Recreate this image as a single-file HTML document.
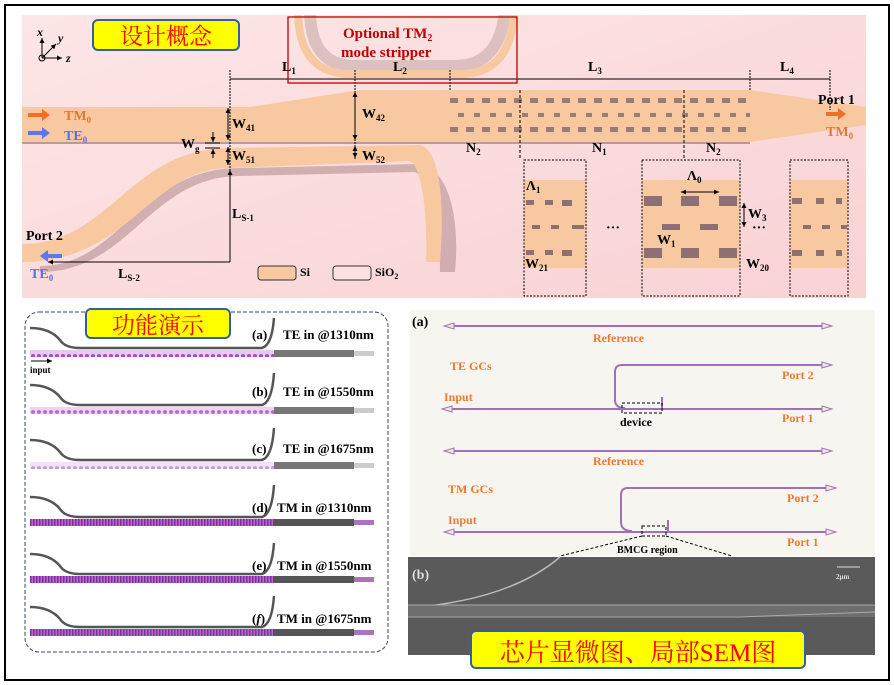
<!DOCTYPE html>
<html><head><meta charset="utf-8"><style>
html,body{margin:0;padding:0;background:#fff}
svg{display:block}
text{font-family:"Liberation Serif",serif;font-weight:bold}
.cn{font-family:"Liberation Serif","Noto Serif CJK SC","Noto Sans CJK SC",serif;font-weight:normal}
</style></head><body>
<svg width="894" height="685" viewBox="0 0 894 685" xmlns="http://www.w3.org/2000/svg">
<defs>
<marker id="a" viewBox="0 0 6 6" refX="6" refY="3" markerWidth="5" markerHeight="5" orient="auto-start-reverse"><path d="M0,0L6,3L0,6z" fill="#000"/></marker>
<linearGradient id="pk" x1="0" y1="0" x2="1" y2="1"><stop offset="0" stop-color="#fde6e6"/><stop offset="1" stop-color="#f9d2d4"/></linearGradient>
<pattern id="holes" width="16" height="1000" patternUnits="userSpaceOnUse"><rect x="2" y="98" width="8" height="5" fill="#9a7c78"/><rect x="10" y="113" width="9" height="4" fill="#9a7c78"/><rect x="2" y="127" width="8" height="5" fill="#9a7c78"/></pattern>
<pattern id="fld" width="6" height="8" patternUnits="userSpaceOnUse"><rect width="6" height="8" fill="#e9c9ee"/><circle cx="3" cy="4" r="2" fill="#a050c0"/></pattern>
<pattern id="fld2" width="3" height="8" patternUnits="userSpaceOnUse"><rect width="3" height="8" fill="#c860c8"/><rect width="1.5" height="8" fill="#6a3aa8"/></pattern>
<clipPath id="tp"><rect x="22" y="15" width="844" height="283"/></clipPath>
</defs>
<rect x="5" y="5" width="884" height="675" fill="#fff" stroke="#000" stroke-width="2"/>

<!-- top panel -->
<rect x="22" y="15" width="844" height="283" fill="url(#pk)"/>
<g clip-path="url(#tp)">
<!-- stripper U -->
<path d="M310,10 Q310,66 355,66 L455,66 Q500,66 505,10" fill="none" stroke="#b89a9a" stroke-width="12" opacity="0.45"/>
<path d="M298,10 Q298,74 350,74 L460,74 Q512,74 514,10" fill="none" stroke="#f8c9a0" stroke-width="8"/>
</g>
<!-- lower waveguide shadow -->
<path d="M40,266 C120,266 140,168 240,168 L420,164 C450,170 460,220 455,272 L440,272 C440,220 430,180 415,172 L240,176 C150,176 130,272 40,272 Z" fill="#c7a2a4" opacity="0.8"/>
<!-- lower waveguide -->
<path d="M22,244 C110,244 130,148 230,148 L420,145 C440,150 445,200 440,262 L426,262 C428,205 420,165 410,161 L230,168 C150,168 130,262 22,262 Z" fill="#f8c9a0"/>
<!-- main waveguide -->
<path d="M22,107 L250,107 L360,90 L750,90 L866,107 L866,125 L750,142 L22,142 Z" fill="#f8c9a0"/>
<line x1="22" y1="143" x2="750" y2="143" stroke="#a08585" stroke-width="1.5"/>
<rect x="448" y="90" width="302" height="52" fill="url(#holes)"/>

<!-- dims -->
<g stroke="#000" stroke-width="1" fill="none">
<line x1="230" y1="70" x2="230" y2="262" stroke-dasharray="2,1"/>
<line x1="355" y1="70" x2="355" y2="160" stroke-dasharray="2,1"/>
<line x1="450" y1="70" x2="450" y2="90" stroke-dasharray="2,1"/>
<line x1="750" y1="70" x2="750" y2="90" stroke-dasharray="2,1"/>
<line x1="830" y1="70" x2="830" y2="110" stroke-dasharray="2,1"/>
<line x1="230" y1="79" x2="830" y2="79"/>
<line x1="520" y1="90" x2="520" y2="160" stroke-dasharray="3,2"/>
<line x1="684" y1="90" x2="684" y2="160" stroke-dasharray="3,2"/>
<line x1="355" y1="92" x2="355" y2="140" marker-start="url(#a)" marker-end="url(#a)"/>
<line x1="228" y1="108" x2="228" y2="140" marker-start="url(#a)" marker-end="url(#a)"/>
<line x1="228" y1="147" x2="228" y2="165" marker-start="url(#a)" marker-end="url(#a)"/>
<line x1="355" y1="146" x2="355" y2="158" marker-start="url(#a)" marker-end="url(#a)"/>
<line x1="230" y1="170" x2="230" y2="262" marker-start="url(#a)"/>
<line x1="48" y1="262" x2="230" y2="262" marker-start="url(#a)"/>
<line x1="205" y1="143" x2="220" y2="143"/><line x1="205" y1="148" x2="220" y2="148"/>
<line x1="213" y1="132" x2="213" y2="142" marker-end="url(#a)"/>
<line x1="213" y1="158" x2="213" y2="149" marker-end="url(#a)"/>
<rect x="288" y="17" width="229" height="66" stroke="#c00000" stroke-width="1.3"/>
</g>
<g font-size="14">
<text x="282" y="71">L<tspan font-size="9" dy="3">1</tspan></text>
<text x="393" y="71">L<tspan font-size="9" dy="3">2</tspan></text>
<text x="588" y="71">L<tspan font-size="9" dy="3">3</tspan></text>
<text x="780" y="71">L<tspan font-size="9" dy="3">4</tspan></text>
<text x="362" y="118">W<tspan font-size="9" dy="3">42</tspan></text>
<text x="232" y="128">W<tspan font-size="9" dy="3">41</tspan></text>
<text x="232" y="160">W<tspan font-size="9" dy="3">51</tspan></text>
<text x="362" y="160">W<tspan font-size="9" dy="3">52</tspan></text>
<text x="181" y="148">W<tspan font-size="9" dy="4">g</tspan></text>
<text x="232" y="218">L<tspan font-size="9" dy="3">S-1</tspan></text>
<text x="118" y="278">L<tspan font-size="9" dy="3">S-2</tspan></text>
<text x="466" y="152">N<tspan font-size="9" dy="3">2</tspan></text>
<text x="592" y="152">N<tspan font-size="9" dy="3">1</tspan></text>
<text x="706" y="152">N<tspan font-size="9" dy="3">2</tspan></text>
<text x="818" y="104">Port 1</text>
<text x="26" y="240">Port 2</text>
<text x="64" y="120" fill="#e07838">TM<tspan font-size="9" dy="3">0</tspan></text>
<text x="64" y="140" fill="#5a6ee8">TE<tspan font-size="9" dy="3">0</tspan></text>
<text x="30" y="278" fill="#5a6ee8">TE<tspan font-size="9" dy="3">0</tspan></text>
<text x="826" y="136" fill="#e07838">TM<tspan font-size="9" dy="3">0</tspan></text>
<text x="343" y="38" fill="#c00000" font-size="15">Optional TM<tspan font-size="10" dy="3">2</tspan></text>
<text x="341" y="57" fill="#c00000" font-size="15">mode stripper</text>
<text x="300" y="276" font-size="12">Si</text>
<text x="375" y="276" font-size="12">SiO<tspan font-size="8" dy="3">2</tspan></text>
</g>
<rect x="258" y="266" width="38" height="14" rx="3" fill="#f8c9a0" stroke="#333"/>
<rect x="333" y="266" width="38" height="14" rx="3" fill="#fbe0e0" stroke="#333"/>
<!-- mode arrows -->
<path d="M28,113h14v-4l8,6l-8,6v-4h-14z" fill="#f07020"/>
<path d="M28,131h14v-4l8,6l-8,6v-4h-14z" fill="#5a78f0"/>
<path d="M62,254h-14v-4l-8,6l8,6v-4h14z" fill="#5a78f0"/>
<path d="M826,112h12v-4l8,6l-8,6v-4h-12z" fill="#f07020"/>
<!-- axes -->
<g stroke="#000" fill="none"><line x1="42" y1="58" x2="42" y2="38" marker-end="url(#a)"/><line x1="42" y1="58" x2="62" y2="58" marker-end="url(#a)"/><line x1="42" y1="58" x2="56" y2="44" marker-end="url(#a)"/><circle cx="42" cy="58" r="3"/></g>
<text x="37" y="36" font-size="12" font-style="italic">x</text><text x="58" y="42" font-size="12" font-style="italic">y</text><text x="66" y="62" font-size="12" font-style="italic">z</text>

<!-- zoom boxes -->
<g>
<rect x="524" y="180" width="62" height="88" fill="#f8c9a0"/>
<rect x="642" y="180" width="98" height="88" fill="#f8c9a0"/>
<rect x="790" y="180" width="58" height="88" fill="#f8c9a0"/>
<g fill="#8e7072">
<rect x="526" y="200" width="8" height="5"/><rect x="545" y="200" width="8" height="5"/><rect x="562" y="200" width="10" height="6"/>
<rect x="532" y="225" width="8" height="4"/><rect x="551" y="225" width="8" height="4"/><rect x="572" y="225" width="12" height="4"/>
<rect x="526" y="250" width="8" height="5"/><rect x="545" y="250" width="8" height="5"/><rect x="562" y="250" width="10" height="6"/>
<rect x="644" y="196" width="18" height="10"/><rect x="681" y="196" width="18" height="10"/><rect x="719" y="196" width="18" height="10"/>
<rect x="662" y="224" width="18" height="6"/><rect x="700" y="224" width="18" height="6"/>
<rect x="644" y="248" width="18" height="10"/><rect x="681" y="248" width="18" height="10"/><rect x="719" y="248" width="18" height="10"/>
<rect x="792" y="198" width="10" height="6"/><rect x="816" y="198" width="8" height="6"/><rect x="836" y="198" width="6" height="6"/>
<rect x="803" y="225" width="8" height="4"/><rect x="822" y="225" width="8" height="4"/><rect x="841" y="225" width="6" height="4"/>
<rect x="792" y="250" width="10" height="6"/><rect x="816" y="250" width="8" height="6"/><rect x="836" y="250" width="6" height="6"/>
</g>
<g fill="none" stroke="#000" stroke-dasharray="2,1.5"><rect x="524" y="160" width="62" height="136"/><rect x="642" y="160" width="98" height="136"/><rect x="790" y="160" width="58" height="136"/></g>
<text x="606" y="232" font-size="14">···</text><text x="752" y="232" font-size="14">···</text>
<g font-size="14"><text x="526" y="190">Λ<tspan font-size="9" dy="3">1</tspan></text><text x="687" y="180">Λ<tspan font-size="9" dy="3">0</tspan></text>
<text x="748" y="218">W<tspan font-size="9" dy="3">3</tspan></text><text x="657" y="244">W<tspan font-size="9" dy="3">1</tspan></text>
<text x="525" y="268">W<tspan font-size="9" dy="3">21</tspan></text><text x="746" y="268">W<tspan font-size="9" dy="3">20</tspan></text></g>
<g stroke="#000" fill="none"><line x1="681" y1="192" x2="719" y2="192" marker-start="url(#a)" marker-end="url(#a)"/><line x1="744" y1="203" x2="744" y2="227" marker-start="url(#a)" marker-end="url(#a)"/></g>
</g>

<!-- bottom left -->
<rect x="25" y="312" width="363" height="340" rx="14" fill="#fff" stroke="#3a4a70" stroke-dasharray="4,2"/>
<g font-size="13">
<text x="252" y="339">(a)</text><text x="283" y="339">TE in @1310nm</text>
<text x="252" y="396">(b)</text><text x="283" y="396">TE in @1550nm</text>
<text x="252" y="453">(c)</text><text x="283" y="453">TE in @1675nm</text>
<text x="252" y="512">(d)</text><text x="277" y="512">TM in @1310nm</text>
<text x="252" y="570">(e)</text><text x="277" y="570">TM in @1550nm</text>
<text x="252" y="623">(<tspan font-style="italic">f</tspan>)</text><text x="277" y="623">TM in @1675nm</text>
</g>
<g fill="none" stroke="#555" stroke-width="2.5">
<path d="M30,328 Q50,328 60,340 Q65,348 80,348 L262,348 Q272,345 274,318"/>
<path d="M30,385 Q50,385 60,397 Q65,405 80,405 L262,405 Q272,402 274,373"/>
<path d="M30,440 Q50,440 60,452 Q65,460 80,460 L262,460 Q272,457 274,428"/>
<path d="M30,497 Q50,497 60,509 Q65,517 80,517 L262,517 Q272,514 274,485"/>
<path d="M30,554 Q50,554 60,566 Q65,574 80,574 L262,574 Q272,571 274,543"/>
<path d="M30,607 Q50,607 60,619 Q65,627 80,627 L262,627 Q272,624 274,596"/>
</g>
<g>
<rect x="30" y="350" width="244" height="7" fill="url(#fld)"/><rect x="274" y="350" width="80" height="7" fill="#777"/><path d="M354,351h20v5h-20z" fill="#ccc"/>
<rect x="30" y="407" width="244" height="7" fill="url(#fld)" opacity="0.8"/><rect x="274" y="407" width="80" height="7" fill="#777"/><path d="M354,408h20v5h-20z" fill="#ccc"/>
<rect x="30" y="462" width="244" height="7" fill="url(#fld)" opacity="0.55"/><rect x="274" y="462" width="80" height="7" fill="#777"/><path d="M354,463h20v5h-20z" fill="#ccc"/>
<rect x="30" y="519" width="244" height="7" fill="url(#fld2)"/><rect x="274" y="519" width="80" height="7" fill="#555"/><path d="M354,520h20v5h-20z" fill="#b070c0"/>
<rect x="30" y="576" width="244" height="7" fill="url(#fld2)"/><rect x="274" y="576" width="80" height="7" fill="#555"/><path d="M354,577h20v5h-20z" fill="#b070c0"/>
<rect x="30" y="629" width="244" height="7" fill="url(#fld2)"/><rect x="274" y="629" width="80" height="7" fill="#555"/><path d="M354,630h20v5h-20z" fill="#b070c0"/>
</g>
<line x1="31" y1="361" x2="52" y2="361" stroke="#000" marker-end="url(#a)"/>
<text x="30" y="373" font-size="9">input</text>

<!-- microscope -->
<rect x="410" y="310" width="465" height="246" fill="#f7f5ef"/>
<g fill="none" stroke="#a070b8" stroke-width="2">
<path d="M450,326H825"/><path d="M448,409H825"/><path d="M622,365H825M622,365Q615,365 615,372V400Q615,408 625,408"/>
<path d="M450,451H825"/><path d="M448,532H830"/><path d="M628,488H830M628,488Q621,488 621,495V522Q621,531 632,531"/>
<path d="M662,397v12M668,520v12"/>
</g>
<g fill="#f0e8d8" stroke="#a070b8"><path d="M444,326l10,-3v6z"/><path d="M832,326l-10,-3v6z"/><path d="M442,409l10,-3v6z"/><path d="M832,409l-10,-3v6z"/><path d="M832,365l-10,-3v6z"/><path d="M444,451l10,-3v6z"/><path d="M832,451l-10,-3v6z"/><path d="M444,532l10,-3v6z"/><path d="M836,532l-10,-3v6z"/><path d="M836,488l-10,-3v6z"/></g>
<g fill="none" stroke="#000" stroke-dasharray="3,2"><rect x="622" y="403" width="40" height="10"/><rect x="642" y="526" width="24" height="10"/><path d="M642,536L560,556M666,536L732,556"/></g>
<g font-size="12" fill="#f07830">
<text x="593" y="342">Reference</text><text x="450" y="370">TE GCs</text><text x="782" y="379">Port 2</text>
<text x="444" y="401">Input</text><text x="782" y="422">Port 1</text>
<text x="593" y="465">Reference</text><text x="448" y="493">TM GCs</text><text x="787" y="502">Port 2</text>
<text x="448" y="524">Input</text><text x="787" y="546">Port 1</text>
</g>
<text x="620" y="426" font-size="12">device</text>
<text x="617" y="553" font-size="10">BMCG region</text>
<text x="412" y="326" font-size="14">(a)</text>
<!-- SEM -->
<rect x="408" y="557" width="467" height="98" fill="#5a5a5a"/>
<path d="M408,608 Q510,600 560,557" fill="none" stroke="#bbb" stroke-width="1.5"/>
<rect x="408" y="605" width="467" height="12" fill="#6e6e6e"/>
<line x1="408" y1="605" x2="875" y2="605" stroke="#aaa"/><line x1="408" y1="617" x2="740" y2="617" stroke="#aaa"/><path d="M740,617L875,612" stroke="#aaa"/>
<text x="412" y="579" font-size="14" fill="#ddd">(b)</text>
<line x1="837" y1="567" x2="860" y2="567" stroke="#ddd"/><text x="836" y="579" font-size="7" fill="#ddd">2μm</text>

<!-- yellow labels -->
<g stroke="#3060a0" stroke-width="2" fill="#ffff00">
<rect x="93" y="20" width="146" height="30" rx="5"/>
<rect x="86" y="309" width="144" height="29" rx="5"/>
<rect x="471" y="631" width="334" height="37" rx="5"/>
</g>
<g fill="#ff0000" class="cn">
<text x="166" y="44" font-size="23" text-anchor="middle" class="cn">设计概念</text>
<text x="158" y="333" font-size="23" text-anchor="middle" class="cn">功能演示</text>
<text x="638" y="661" font-size="25" text-anchor="middle" class="cn">芯片显微图、局部SEM图</text>
</g>
</svg>
</body></html>
